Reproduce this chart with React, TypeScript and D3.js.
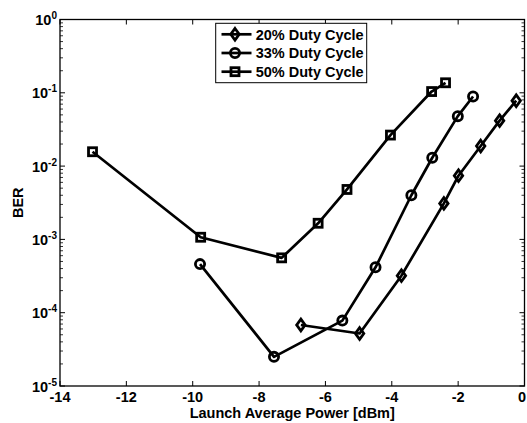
import React from "react";
import * as d3 from "d3";

const xs20 = [-6.74, -4.97, -3.71, -2.43, -1.99, -1.32, -0.75, -0.25];
const ys20 = [6.8e-5, 5.2e-5, 3.2e-4, 3.1e-3, 7.4e-3, 1.88e-2, 4.17e-2, 7.8e-2];
const xs33 = [-9.78, -7.55, -5.49, -4.49, -3.41, -2.78, -2.01, -1.55];
const ys33 = [4.6e-4, 2.5e-5, 7.8e-5, 4.16e-4, 4.0e-3, 1.3e-2, 4.8e-2, 8.9e-2];
const xs50 = [-13.02, -9.76, -7.32, -6.22, -5.35, -4.04, -2.8, -2.38];
const ys50 = [1.57e-2, 1.07e-3, 5.6e-4, 1.66e-3, 4.8e-3, 2.65e-2, 1.04e-1, 1.37e-1];

const xTicks = [-14, -12, -10, -8, -6, -4, -2, 0];
const yExps = [0, -1, -2, -3, -4, -5];
const seriesNames = ["20% Duty Cycle", "33% Duty Cycle", "50% Duty Cycle"];
const markers = ["diamond", "circle", "square"];

const W = 527, H = 423;
const L = 60, R = 524.5, T = 19.5, B = 386;

function Marker({ kind, x, y }: { kind: string; x: number; y: number }) {
  const sw = 2.8;
  if (kind === "circle") return <circle cx={x} cy={y} r={4.6} fill="none" stroke="#000" strokeWidth={sw} />;
  if (kind === "square") return <rect x={x - 4} y={y - 4} width={8} height={8} fill="none" stroke="#000" strokeWidth={sw} />;
  return <path d={`M${x},${y - 5.8} L${x + 4.2},${y} L${x},${y + 5.8} L${x - 4.2},${y} Z`} fill="none" stroke="#000" strokeWidth={sw} />;
}

export default function App() {
  const x = d3.scaleLinear().domain([-14, 0]).range([L, R]);
  const y = d3.scaleLog().domain([1e-5, 1]).range([B, T]);
  const line = d3.line<[number, number]>().x((d) => x(d[0])).y((d) => y(d[1]));
  const series = [
    xs20.map((v, i) => [v, ys20[i]] as [number, number]),
    xs33.map((v, i) => [v, ys33[i]] as [number, number]),
    xs50.map((v, i) => [v, ys50[i]] as [number, number]),
  ];
  const minor: number[] = [];
  for (let e = -5; e < 0; e++) for (let m = 2; m <= 9; m++) minor.push(m * Math.pow(10, e));
  const font = "'Liberation Sans', Arial, sans-serif";
  return (
    <svg width={W} height={H} style={{ position: "absolute", left: 0, top: 0, background: "#fff" }} fontFamily={font}>
      <rect x={0} y={0} width={W} height={H} fill="#fff" />
      <rect x={L} y={T} width={R - L} height={B - T} fill="none" stroke="#000" strokeWidth={1.3} />
      {xTicks.map((t) => (
        <g key={"xt" + t}>
          <line x1={x(t)} x2={x(t)} y1={B} y2={B - 5} stroke="#000" strokeWidth={1} />
          <line x1={x(t)} x2={x(t)} y1={T} y2={T + 5} stroke="#000" strokeWidth={1} />
          <text x={Math.min(x(t), W - 5)} y={402} textAnchor="middle" fontSize={14.5} fontWeight="bold">{t}</text>
        </g>
      ))}
      {yExps.map((e) => {
        const yy = y(Math.pow(10, e));
        return (
          <g key={"yt" + e}>
            <line x1={L} x2={L + 5} y1={yy} y2={yy} stroke="#000" strokeWidth={1} />
            <line x1={R} x2={R - 5} y1={yy} y2={yy} stroke="#000" strokeWidth={1} />
            <text x={57} y={yy + 5.5} textAnchor="end" fontSize={14.5} fontWeight="bold">
              10<tspan dy={-6} fontSize={10}>{e}</tspan>
            </text>
          </g>
        );
      })}
      {minor.map((v, i) => (
        <g key={"mn" + i}>
          <line x1={L} x2={L + 3} y1={y(v)} y2={y(v)} stroke="#000" strokeWidth={0.8} />
          <line x1={R} x2={R - 3} y1={y(v)} y2={y(v)} stroke="#000" strokeWidth={0.8} />
        </g>
      ))}
      {series.map((s, i) => (
        <g key={"s" + i}>
          <path d={line(s) || ""} fill="none" stroke="#000" strokeWidth={2.7} strokeLinejoin="round" />
          {s.map((d, j) => (
            <Marker key={j} kind={markers[i]} x={x(d[0])} y={y(d[1])} />
          ))}
        </g>
      ))}
      <text x={(L + R) / 2} y={418} textAnchor="middle" fontSize={14.5} fontWeight="bold">Launch Average Power [dBm]</text>
      <text transform={`translate(23,${(T + B) / 2}) rotate(-90)`} textAnchor="middle" fontSize={14.5} fontWeight="bold">BER</text>
      <rect x={215.7} y={23.3} width={151} height={59.4} fill="#fff" stroke="#000" strokeWidth={1} />
      {seriesNames.map((n, i) => {
        const ly = 34.3 + i * 18.7;
        return (
          <g key={"lg" + i}>
            <line x1={221.5} x2={251.5} y1={ly} y2={ly} stroke="#000" strokeWidth={2.7} />
            <Marker kind={markers[i]} x={235} y={ly} />
            <text x={255.7} y={ly + 5.2} fontSize={14.5} fontWeight="bold">{n}</text>
          </g>
        );
      })}
    </svg>
  );
}
